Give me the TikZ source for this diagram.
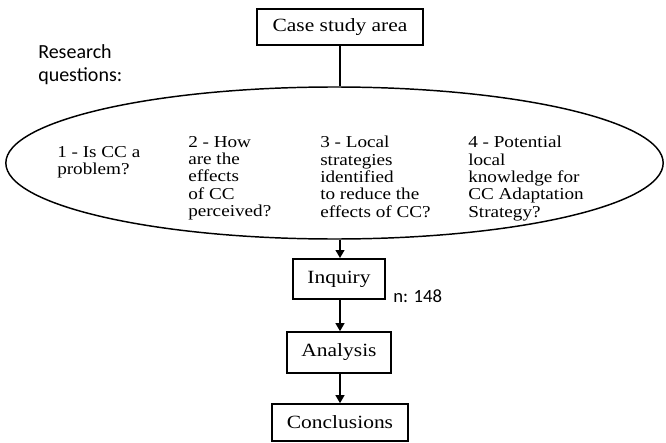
\documentclass[tikz,border=0pt]{standalone}
\usepackage{fontspec}
\setmainfont{Liberation Serif}[FakeStretch=1.15]
\newfontfamily\calfont{Carlito}
\usetikzlibrary{arrows.meta,shapes.geometric}

\begin{document}
\begin{tikzpicture}[
  x=0.75pt,y=-0.75pt,
  stage/.style={draw,line width=1.4pt,inner sep=0pt,font=\fontsize{14}{16}\selectfont},
  question/.style={anchor=north west,align=left,inner sep=0pt,font=\fontsize{12.5}{13}\selectfont},
  flow/.style={line width=1.4pt,-{Triangle[length=6pt,width=6.5pt]}}
]
  \useasboundingbox (0,0) rectangle (666,442);

  \node[stage,minimum width=124.5pt,minimum height=27.5pt] (case) at (340,27) {Case study area};
  \node[draw,ellipse,line width=1.1pt,minimum width=493pt,minimum height=114pt] (rq) at (334.5,163) {};
  \node[anchor=north west,align=left,inner sep=0pt,font=\calfont\fontsize{15}{17.5}\selectfont] (rqlabel) at (38,44) {Research\\questions:};

  \node[question] (q1) at (57,146) {1 - Is CC a\\problem?};
  \node[question] (q2) at (188,136) {2 - How\\are the\\effects\\of CC\\perceived?};
  \node[question] (q3) at (320,136) {3 - Local\\strategies\\identified\\to reduce the\\effects of CC?};
  \node[question] (q4) at (468,136) {4 - Potential\\local\\knowledge for\\CC Adaptation\\Strategy?};

  \node[stage,minimum width=69pt,minimum height=30pt] (inquiry) at (339,279) {Inquiry};
  \node[anchor=west,inner sep=0pt,font=\calfont\fontsize{14}{16}\selectfont] (nlabel) at (393,296) {n: 148};
  \node[stage,minimum width=78pt,minimum height=30.5pt] (analysis) at (339,352.5) {Analysis};
  \node[stage,minimum width=102pt,minimum height=27.5pt] (concl) at (340,422.5) {Conclusions};

  \draw[line width=1.4pt] (case.south) -- (case |- rq.north);
  \draw[flow] (case |- rq.south) -- (case |- inquiry.north);
  \draw[flow] (case |- inquiry.south) -- (case |- analysis.north);
  \draw[flow] (case |- analysis.south) -- (case |- concl.north);
\end{tikzpicture}
\end{document}
